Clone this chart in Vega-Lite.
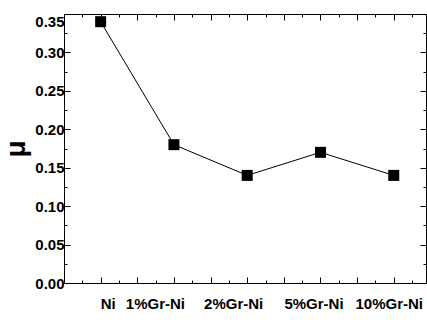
{
  "$schema": "https://vega.github.io/schema/vega-lite/v6.json",
  "autosize": "none",
  "width": 362,
  "height": 269,
  "padding": {"left": 64, "top": 14, "right": 1, "bottom": 42},
  "background": "white",
  "config": {
    "view": {"stroke": null},
    "axis": {
      "domainColor": "black",
      "domainWidth": 1,
      "tickColor": "black",
      "tickWidth": 1,
      "grid": false,
      "labelFont": "Liberation Sans",
      "labelFontWeight": "bold",
      "labelColor": "black",
      "titleFont": "Liberation Sans",
      "titleColor": "black"
    }
  },
  "data": {
    "values": [
      {"sample": "Ni", "x": 1, "mu": 0.34},
      {"sample": "1%Gr-Ni", "x": 2, "mu": 0.18},
      {"sample": "2%Gr-Ni", "x": 3, "mu": 0.14},
      {"sample": "5%Gr-Ni", "x": 4, "mu": 0.17},
      {"sample": "10%Gr-Ni", "x": 5, "mu": 0.14}
    ]
  },
  "layer": [
    {
      "mark": {"type": "line", "color": "black", "strokeWidth": 1, "clip": false},
      "encoding": {
        "x": {
          "field": "x", "type": "quantitative",
          "scale": {"domain": [0.5, 5.44], "nice": false, "zero": false},
          "axis": {
            "orient": "top", "title": null, "labels": false,
            "values": [0.5, 0.75, 1, 1.25, 1.5, 1.75, 2, 2.25, 2.5, 2.75, 3, 3.25, 3.5, 3.75, 4, 4.25, 4.5, 4.75, 5, 5.25],
            "tickSize": {"condition": {"test": "abs(datum.value*2 - round(datum.value*2)) < 0.01", "value": -6}, "value": -3}
          }
        },
        "y": {
          "field": "mu", "type": "quantitative",
          "scale": {"domain": [0, 0.35], "nice": false, "zero": false},
          "axis": {
            "orient": "right", "title": null, "labels": false,
            "values": [0, 0.025, 0.05, 0.075, 0.1, 0.125, 0.15, 0.175, 0.2, 0.225, 0.25, 0.275, 0.3, 0.325, 0.35],
            "tickSize": {"condition": {"test": "abs(datum.value*20 - round(datum.value*20)) < 0.01", "value": -6}, "value": -3}
          }
        }
      }
    },
    {
      "mark": {"type": "square", "color": "black", "opacity": 1, "filled": true, "size": 121, "clip": false},
      "encoding": {
        "x": {
          "field": "x", "type": "quantitative",
          "axis": {
            "orient": "bottom", "title": null,
            "values": [0.5, 0.75, 1, 1.25, 1.5, 1.75, 2, 2.25, 2.5, 2.75, 3, 3.25, 3.5, 3.75, 4, 4.25, 4.5, 4.75, 5, 5.25],
            "tickSize": {"condition": {"test": "abs(datum.value*2 - round(datum.value*2)) < 0.01", "value": -6}, "value": -3},
            "labelExpr": "datum.value == 1 ? 'Ni' : datum.value == 2 ? '1%Gr-Ni' : datum.value == 3 ? '2%Gr-Ni' : datum.value == 4 ? '5%Gr-Ni' : datum.value == 5 ? '10%Gr-Ni' : ''",
            "labelOffset": {"condition": [
              {"test": "datum.value == 1", "value": 7},
              {"test": "datum.value == 2", "value": -19},
              {"test": "datum.value == 3", "value": -14},
              {"test": "datum.value == 4", "value": -7},
              {"test": "datum.value == 5", "value": -5}
            ], "value": 0},
            "labelFontSize": 15,
            "labelPadding": 19,
            "labelOverlap": false,
            "labelBound": false,
            "labelFlush": false
          }
        },
        "y": {
          "field": "mu", "type": "quantitative",
          "axis": {
            "orient": "left",
            "title": "μ",
            "titleFontSize": 28,
            "titleFontWeight": "bold",
            "titlePadding": 4,
            "values": [0, 0.025, 0.05, 0.075, 0.1, 0.125, 0.15, 0.175, 0.2, 0.225, 0.25, 0.275, 0.3, 0.325, 0.35],
            "tickSize": {"condition": {"test": "abs(datum.value*20 - round(datum.value*20)) < 0.01", "value": -6}, "value": -3},
            "labelExpr": "abs(datum.value*20 - round(datum.value*20)) < 0.01 ? format(datum.value, '.2f') : ''",
            "labelBaseline": {"condition": {"test": "datum.value > 0.34", "value": "top"}, "value": "middle"},
            "labelFontSize": 15,
            "labelPadding": 6,
            "labelOverlap": false,
            "labelBound": false,
            "labelFlush": false
          }
        }
      }
    }
  ],
  "resolve": {"axis": {"x": "independent", "y": "independent"}}
}
